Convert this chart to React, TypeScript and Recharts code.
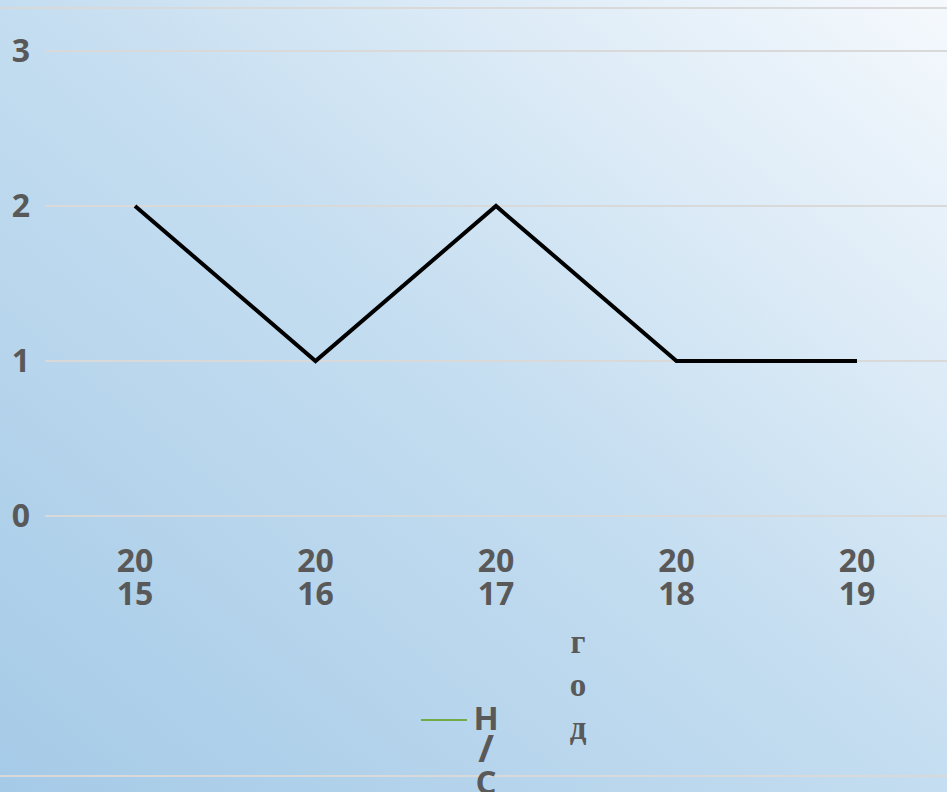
import { LineChart, Line, XAxis, YAxis, CartesianGrid, Legend } from "recharts";

const years = ["2015", "2016", "2017", "2018", "2019"];
const nsValues = [2, 1, 2, 1, 1];
const yTicks = [0, 1, 2, 3];
const seriesName = "Н/С";
const axisTitle = ["г", "о", "д"];

const data = years.map((year, i) => ({ year, ns: nsValues[i] }));

const labelColor = "#595959";
const gridColor = "#d9d9d9";
const legendColor = "#70ad47";
const sansFont = "'Open Sans', sans-serif";

function YearTick(props: any) {
  const { x, y, payload } = props;
  const s = String(payload.value);
  return (
    <text
      x={x}
      y={y}
      textAnchor="middle"
      fill={labelColor}
      fontFamily={sansFont}
      fontWeight={700}
      fontSize={32}
    >
      <tspan x={x} dy={54}>{s.slice(0, 2)}</tspan>
      <tspan x={x} dy={33}>{s.slice(2)}</tspan>
    </text>
  );
}

function ValueTick(props: any) {
  const { y, payload } = props;
  return (
    <text
      x={21}
      y={y + 11}
      textAnchor="middle"
      fill={labelColor}
      fontFamily={sansFont}
      fontWeight={700}
      fontSize={32}
    >
      {payload.value}
    </text>
  );
}

function AxisTitle() {
  return (
    <g>
      {axisTitle.map((ch, i) => (
        <text
          key={ch}
          x={578}
          y={653 + i * 43}
          textAnchor="middle"
          fill={labelColor}
          fontFamily="'Liberation Serif', serif"
          fontWeight={700}
          fontSize={33}
        >
          {ch}
        </text>
      ))}
    </g>
  );
}

function StackedLegend(props: any) {
  const item = props.payload?.[0];
  const name: string = item ? item.value : seriesName;
  return (
    <svg width={130} height={110} style={{ overflow: "visible", display: "block" }}>
      <line x1={6} y1={30} x2={52} y2={30} stroke={legendColor} strokeWidth={2} />
      {name.split("").map((ch, i) => (
        <text
          key={i}
          x={71}
          y={40 + i * 32}
          textAnchor="middle"
          fill={labelColor}
          fontFamily={sansFont}
          fontWeight={700}
          fontSize={i === 1 ? 38 : 33}
        >
          {ch}
        </text>
      ))}
    </svg>
  );
}

export default function App() {
  return (
    <div
      style={{
        position: "absolute",
        left: 0,
        top: 0,
        width: 947,
        height: 792,
        overflow: "hidden",
        background:
          "linear-gradient(to top right, #a5cae7 0%, #c4ddf0 50%, #f5f9fd 100%)",
      }}
    >
      <div style={{ position: "absolute", left: 0, top: 7, width: 947, height: 2, background: gridColor }} />
      <div style={{ position: "absolute", left: 0, top: 775, width: 947, height: 2, background: gridColor }} />
      <LineChart
        width={947}
        height={792}
        data={data}
        margin={{ top: 51, right: 0, left: 0, bottom: 176 }}
      >
        <CartesianGrid vertical={false} stroke={gridColor} strokeWidth={2} />
        <XAxis
          dataKey="year"
          axisLine={false}
          tickLine={false}
          tickSize={0}
          height={100}
          interval={0}
          padding={{ left: 90, right: 90 }}
          tick={<YearTick />}
          label={<AxisTitle />}
        />
        <YAxis
          width={45}
          domain={[0, 3]}
          ticks={yTicks}
          axisLine={false}
          tickLine={false}
          tick={<ValueTick />}
        />
        <Legend
          layout="horizontal"
          verticalAlign="middle"
          align="center"
          content={<StackedLegend />}
          wrapperStyle={{ left: 415, top: 690, width: 130 }}
        />
        <Line
          type="linear"
          dataKey="ns"
          name={seriesName}
          stroke="#000000"
          strokeWidth={4}
          dot={false}
          activeDot={false}
          isAnimationActive={false}
        />
      </LineChart>
    </div>
  );
}
